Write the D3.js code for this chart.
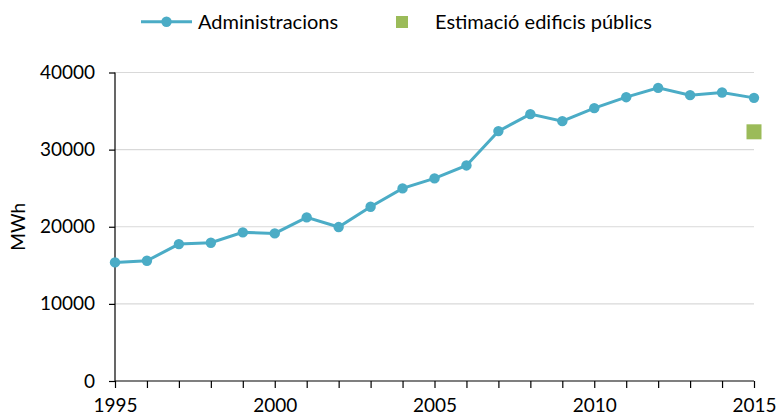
<!DOCTYPE html>
<html>
<head>
<meta charset="utf-8">
<script src="https://cdn.jsdelivr.net/npm/d3@7"></script>
<style>
  html, body { margin: 0; padding: 0; background: #fff; }
  svg { display: block; font-family: Lato, "Open Sans", sans-serif; }
</style>
</head>
<body>
<svg id="chart" width="780" height="416"></svg>
<script>
// Electricity consumption of public administrations (MWh), 1995–2015
const years = [1995, 1996, 1997, 1998, 1999, 2000, 2001, 2002, 2003, 2004, 2005,
               2006, 2007, 2008, 2009, 2010, 2011, 2012, 2013, 2014, 2015];
const administracions = [15380, 15590, 17750, 17920, 19270, 19140, 21210, 19960, 22590, 24970, 26270,
                         27950, 32400, 34600, 33690, 35380, 36800, 38010, 37060, 37410, 36710];
const estimacioYears = [2015];
const estimacioValues = [32310];
const yTicks = [0, 10000, 20000, 30000, 40000];
const xTickLabels = [1995, 2000, 2005, 2010, 2015];

const lineColor = "#4bacc6";
const squareColor = "#9bbb59";

const svg = d3.select("#chart");
const margin = { left: 115, right: 26, top: 72.5, bottom: 35 };
const W = 780, H = 416;

const x = d3.scaleLinear().domain([1995, 2015]).range([margin.left, W - margin.right]);
const y = d3.scaleLinear().domain([0, 40000]).range([H - margin.bottom, margin.top]);

// horizontal gridlines
svg.append("g")
  .selectAll("line")
  .data(yTicks.filter(d => d > 0))
  .join("line")
  .attr("x1", x(1995)).attr("x2", x(2015))
  .attr("y1", d => y(d)).attr("y2", d => y(d))
  .attr("stroke", "#d9d9d9").attr("stroke-width", 1.2);

// y axis
const yAxis = svg.append("g")
  .attr("transform", `translate(${x(1995)},0)`)
  .call(d3.axisLeft(y).tickValues(yTicks).tickSize(6).tickPadding(14).tickFormat(d3.format("d")));
yAxis.selectAll("text").attr("font-size", 19).attr("fill", "#000").attr("font-family", "Lato, sans-serif");
yAxis.selectAll("line, path").attr("stroke", "#000").attr("stroke-width", 1.2);
yAxis.select(".domain").attr("d", `M0,${y(0)}V${y(40000)}`);

// x axis
const xAxis = svg.append("g")
  .attr("transform", `translate(0,${y(0)})`)
  .call(d3.axisBottom(x).tickValues(years).tickSize(7).tickPadding(11)
    .tickFormat(d => xTickLabels.includes(d) ? d : ""));
xAxis.selectAll("text").attr("font-size", 19).attr("fill", "#000").attr("font-family", "Lato, sans-serif");
xAxis.selectAll("line, path").attr("stroke", "#000").attr("stroke-width", 1.2);
xAxis.select(".domain").attr("d", `M${x(1995)},0H${x(2015)}`);

// y axis title
svg.append("text")
  .attr("transform", `translate(25,${(y(0) + y(40000)) / 2}) rotate(-90)`)
  .attr("text-anchor", "middle")
  .attr("font-size", 19)
  .attr("fill", "#000")
  .text("MWh");

// series line
const line = d3.line().x((d, i) => x(years[i])).y(d => y(d));
svg.append("path")
  .datum(administracions)
  .attr("d", line)
  .attr("fill", "none")
  .attr("stroke", lineColor)
  .attr("stroke-width", 3);

svg.append("g")
  .selectAll("circle")
  .data(administracions)
  .join("circle")
  .attr("cx", (d, i) => x(years[i]))
  .attr("cy", d => y(d))
  .attr("r", 5.2)
  .attr("fill", lineColor);

// estimated public buildings point
const sq = 15;
svg.append("g")
  .selectAll("rect")
  .data(estimacioValues)
  .join("rect")
  .attr("x", (d, i) => x(estimacioYears[i]) - sq / 2)
  .attr("y", d => y(d) - sq / 2)
  .attr("width", sq).attr("height", sq)
  .attr("fill", squareColor);

// legend
const leg = svg.append("g");
leg.append("line")
  .attr("x1", 141).attr("x2", 192).attr("y1", 21.7).attr("y2", 21.7)
  .attr("stroke", lineColor).attr("stroke-width", 3);
leg.append("circle").attr("cx", 166.5).attr("cy", 21.7).attr("r", 5.2).attr("fill", lineColor);
leg.append("text")
  .attr("x", 198).attr("y", 29)
  .attr("font-size", 20).attr("fill", "#000")
  .text("Administracions");
leg.append("rect")
  .attr("x", 396).attr("y", 16).attr("width", 12).attr("height", 12)
  .attr("fill", squareColor);
leg.append("text")
  .attr("x", 435).attr("y", 29)
  .attr("font-size", 20).attr("fill", "#000")
  .text("Estimació edificis públics");
</script>
</body>
</html>
